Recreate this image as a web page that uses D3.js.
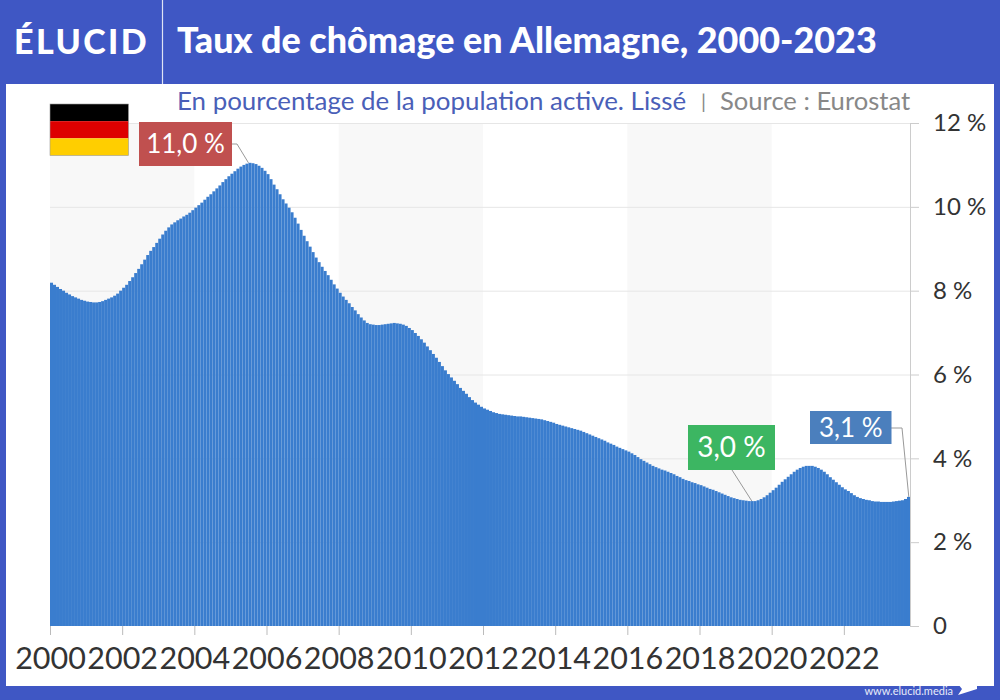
<!doctype html>
<html>
<head>
<meta charset="utf-8">
<script src="https://cdnjs.cloudflare.com/ajax/libs/d3/7.8.5/d3.min.js"></script>
<style>
  html, body { margin: 0; padding: 0; background: #3f57c4; }
  svg { display: block; font-family: Lato, sans-serif; }
  .tick text { fill: #333; }
</style>
</head>
<body>
<svg id="chart" width="1000" height="700"></svg>
<script>
// taux de chomage mensuel lissé
var y2000 = [8.19,8.14,8.09,8.04,8.00,7.95,7.91,7.87,7.84,7.81,7.78,7.76];
var y2001 = [7.74,7.73,7.72,7.72,7.73,7.75,7.78,7.81,7.84,7.88,7.93,8.00];
var y2002 = [8.07,8.14,8.23,8.32,8.42,8.52,8.63,8.74,8.85,8.95,9.04,9.14];
var y2003 = [9.24,9.34,9.43,9.51,9.58,9.63,9.68,9.72,9.77,9.81,9.86,9.92];
var y2004 = [9.98,10.04,10.10,10.17,10.24,10.30,10.37,10.44,10.51,10.59,10.66,10.73];
var y2005 = [10.79,10.85,10.91,10.96,11.00,11.03,11.05,11.04,11.02,10.98,10.93,10.86];
var y2006 = [10.78,10.66,10.53,10.42,10.30,10.18,10.08,9.98,9.87,9.74,9.60,9.45];
var y2007 = [9.31,9.18,9.05,8.92,8.79,8.68,8.57,8.47,8.37,8.26,8.15,8.05];
var y2008 = [7.95,7.86,7.78,7.70,7.61,7.53,7.44,7.36,7.29,7.23,7.20,7.19];
var y2009 = [7.18,7.18,7.19,7.20,7.21,7.22,7.23,7.22,7.21,7.19,7.16,7.11];
var y2010 = [7.06,6.99,6.92,6.84,6.76,6.67,6.58,6.49,6.40,6.30,6.20,6.10];
var y2011 = [6.01,5.93,5.85,5.77,5.68,5.61,5.54,5.46,5.39,5.33,5.28,5.23];
var y2012 = [5.19,5.16,5.13,5.10,5.08,5.06,5.05,5.04,5.03,5.02,5.01,5.00];
var y2013 = [5.00,4.99,4.98,4.97,4.96,4.95,4.94,4.93,4.91,4.89,4.87,4.85];
var y2014 = [4.82,4.80,4.78,4.76,4.74,4.72,4.70,4.68,4.66,4.63,4.60,4.57];
var y2015 = [4.54,4.51,4.48,4.45,4.42,4.38,4.35,4.32,4.28,4.25,4.22,4.19];
var y2016 = [4.16,4.12,4.08,4.03,3.98,3.94,3.90,3.86,3.82,3.79,3.76,3.73];
var y2017 = [3.71,3.68,3.65,3.62,3.58,3.55,3.51,3.48,3.46,3.43,3.41,3.38];
var y2018 = [3.36,3.33,3.30,3.27,3.25,3.22,3.19,3.16,3.13,3.10,3.07,3.05];
var y2019 = [3.03,3.01,3.00,2.99,2.98,2.98,2.98,3.00,3.03,3.07,3.12,3.18];
var y2020 = [3.24,3.30,3.37,3.44,3.50,3.56,3.62,3.68,3.73,3.77,3.80,3.82];
var y2021 = [3.82,3.82,3.80,3.77,3.73,3.68,3.62,3.55,3.49,3.43,3.37,3.31];
var y2022 = [3.26,3.22,3.17,3.12,3.08,3.05,3.03,3.01,3.00,2.98,2.97,2.97];
var y2023 = [2.96,2.96,2.96,2.96,2.97,2.98,2.99,3.00,3.03,3.08];

var rate = [].concat(y2000,y2001,y2002,y2003,y2004,y2005,y2006,y2007,y2008,y2009,y2010,y2011,
                     y2012,y2013,y2014,y2015,y2016,y2017,y2018,y2019,y2020,y2021,y2022,y2023);

var yearTicks = [2000,2002,2004,2006,2008,2010,2012,2014,2016,2018,2020,2022];
var rateTicks = [0,2,4,6,8,10,12];
var shadedSpans = [[2000,2004],[2008,2012],[2016,2020]];
var flagColors = ["#000000","#dd0000","#ffce00"];

var callouts = [
  {text: "11,0 %", year: 2005.5, value: 11.05, color: "#c0504f"},
  {text: "3,0 %", year: 2019.45, value: 2.98, color: "#3cb662"},
  {text: "3,1 %", year: 2023.8, value: 3.08, color: "#4b7fbd"}
];

var svg = d3.select("#chart");
var blue = "#3f57c4";

// cadre
svg.append("rect").attr("width", 1000).attr("height", 700).attr("fill", blue);
svg.append("rect").attr("x", 6).attr("y", 84).attr("width", 988).attr("height", 602).attr("fill", "#fff");
svg.append("line").attr("x1", 162.5).attr("x2", 162.5).attr("y1", 0).attr("y2", 84).attr("stroke", "#dfe3f5").attr("stroke-width", 1.2);

svg.append("text").attr("x", 14).attr("y", 54).attr("fill", "#fff")
  .style("font-size", "34px").style("font-weight", 900).style("letter-spacing", "2.4px").text("ÉLUCID");
svg.append("text").attr("x", 177).attr("y", 53).attr("fill", "#fff")
  .style("font-size", "35.9px").style("font-weight", 900).text("Taux de chômage en Allemagne, 2000-2023");

svg.append("text").attr("x", 177).attr("y", 110).attr("fill", "#4a5fb8")
  .style("font-size", "25.9px").text("En pourcentage de la population active. Lissé");
svg.append("text").attr("x", 701).attr("y", 109).attr("fill", "#888").style("font-size", "20px").text("|");
svg.append("text").attr("x", 720).attr("y", 110).attr("fill", "#888")
  .style("font-size", "25.6px").text("Source : Eurostat");

svg.append("text").attr("x", 953).attr("y", 695).attr("text-anchor", "end").attr("fill", "#e8ebf8")
  .style("font-size", "11px").text("www.elucid.media");
svg.append("path").attr("d", "M958 684L977 679L977 689L958 695L962 689Z").attr("fill", "#fff");

// echelles
var x = d3.scaleLinear().domain([2000, 2000 + rate.length / 12]).range([50, 910]);
var y = d3.scaleLinear().domain([0, 12]).range([626, 123]);

svg.selectAll(".shade").data(shadedSpans).enter().append("rect")
  .attr("class", "shade")
  .attr("x", d => x(d[0]))
  .attr("width", d => x(d[1]) - x(d[0]))
  .attr("y", y(12))
  .attr("height", y(0) - y(12))
  .attr("fill", "#f8f8f8");

svg.selectAll(".grid").data(rateTicks.filter(d => d > 0)).enter().append("line")
  .attr("class", "grid")
  .attr("x1", x.range()[0]).attr("x2", x.range()[1])
  .attr("y1", d => y(d) + 0.5).attr("y2", d => y(d) + 0.5)
  .attr("stroke", "#e6e6e6");

var step = x(2000 + 1 / 12) - x(2000);
svg.selectAll(".bar").data(rate).enter().append("rect")
  .attr("class", "bar")
  .attr("x", (d, i) => x(2000 + i / 12))
  .attr("width", step)
  .attr("y", d => y(d))
  .attr("height", d => y(0) - y(d))
  .attr("fill", "#3a7dce");

// axes
var xAxis = svg.append("g").attr("transform", "translate(0,626)")
  .call(d3.axisBottom(x).tickValues(yearTicks).tickFormat(d3.format("d")).tickSize(9).tickSizeOuter(0));
xAxis.select(".domain").remove();
xAxis.selectAll("line").attr("stroke", "#bbb");
xAxis.selectAll("text").attr("y", 21).style("font-size", "30.5px").style("font-family", "Lato, sans-serif");

var yAxis = svg.append("g").attr("transform", "translate(910,0)")
  .call(d3.axisRight(y).tickValues(rateTicks).tickFormat(d => d === 0 ? "0" : d + " %").tickSize(9).tickSizeOuter(0));
yAxis.select(".domain").attr("stroke", "#ccc");
yAxis.selectAll("line").attr("stroke", "#ccc");
yAxis.selectAll("text").attr("x", 23).style("font-size", "24px").style("font-family", "Lato, sans-serif");

// drapeau
var flagY = d3.scaleBand().domain(flagColors).range([104, 155.5]);
svg.selectAll(".flag").data(flagColors).enter().append("rect")
  .attr("class", "flag")
  .attr("x", 50).attr("width", 78.5)
  .attr("y", d => flagY(d)).attr("height", flagY.bandwidth())
  .attr("fill", d => d);
svg.append("rect").attr("x", 50).attr("y", 104).attr("width", 78.5).attr("height", 51.5)
  .attr("fill", "none").attr("stroke", "#999").attr("stroke-width", 0.6);

// etiquettes
var boxes = [
  {x: 139, y: 122, w: 93, h: 44, size: 26, from: [[232,144],[237,144]]},
  {x: 688, y: 425, w: 87, h: 45, size: 28, from: [[732,470]]},
  {x: 810, y: 411, w: 81.5, h: 33, size: 26, from: [[891,428],[902,428]]}
];
callouts.forEach(function(c, i) {
  var b = boxes[i];
  var pts = b.from.concat([[x(c.year), y(c.value)]]);
  svg.append("path").attr("d", d3.line()(pts)).attr("fill", "none").attr("stroke", "#999").attr("stroke-width", 1);
  svg.append("rect").attr("x", b.x).attr("y", b.y).attr("width", b.w).attr("height", b.h).attr("fill", c.color);
  svg.append("text").attr("x", b.x + b.w / 2).attr("y", b.y + b.h / 2 + 9)
    .attr("text-anchor", "middle").attr("fill", "#fff")
    .style("font-size", b.size + "px").text(c.text);
});
</script>
</body>
</html>
